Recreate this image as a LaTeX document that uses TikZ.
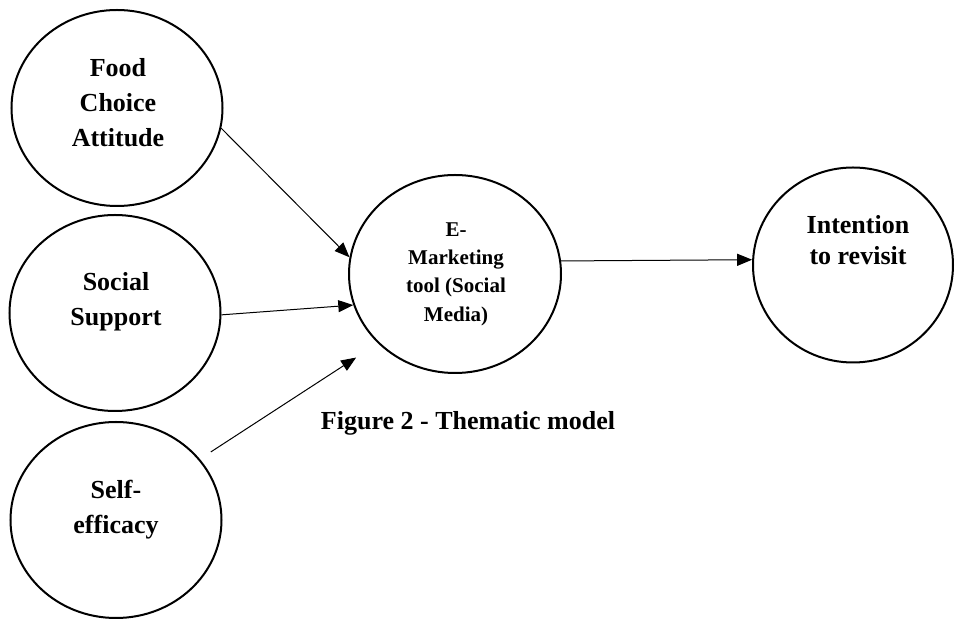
\documentclass[tikz,border=0pt]{standalone}
\usepackage{fontspec}
\setmainfont{Liberation Serif}
\usetikzlibrary{shapes.geometric,arrows.meta}

\begin{document}
\begin{tikzpicture}[x=0.5pt,y=-0.5pt,
  oval/.style={ellipse,draw,line width=1pt,inner sep=0pt,minimum width=105.5pt,minimum height=98pt},
  big/.style={align=center,font=\fontsize{13}{17.5}\selectfont\bfseries},
  small/.style={align=center,font=\fontsize{10.5}{14.2}\selectfont\bfseries},
  link/.style={-{Triangle[length=7.5pt,width=6pt]},line width=0.5pt}]
    \useasboundingbox (0,0) rectangle (955,619);
    %construct ellipses
    \node (food) at (117,108) [oval] {};
    \node (social) at (115,313) [oval] {};
    \node (self) at (116,520) [oval] {};
    \node (emkt) at (455,274) [oval,minimum width=106pt,minimum height=99pt] {};
    \node (revisit) at (853,265) [oval,minimum width=100pt,minimum height=97.5pt] {};

    %texts
    \node (foodtext) at (118,103) [big] {Food\\Choice\\Attitude};
    \node (socialtext) at (116,302) [big] {Social\\Support};
    \node (selftext) at (116,510) [big] {Self-\\efficacy};
    \node (emkttext) at (456,274) [small] {E-\\Marketing\\tool (Social\\Media)};
    \node (revisittext) at (858,240) [big,font=\fontsize{13}{15.5}\selectfont\bfseries] {Intention\\to revisit};
    \node (caption) at (468,423) [big] {Figure 2 - Thematic model};

    \draw [link] (food.-11) -- (emkt.171);
    \draw [link] (social.-1) -- (emkt.-163);
    \draw [link,shorten <=6.5pt,shorten >=13pt] (self.36) -- (emkt.-138);
    \draw [link] (emkt.7.5) -- (revisit.177);
\end{tikzpicture}
\end{document}
